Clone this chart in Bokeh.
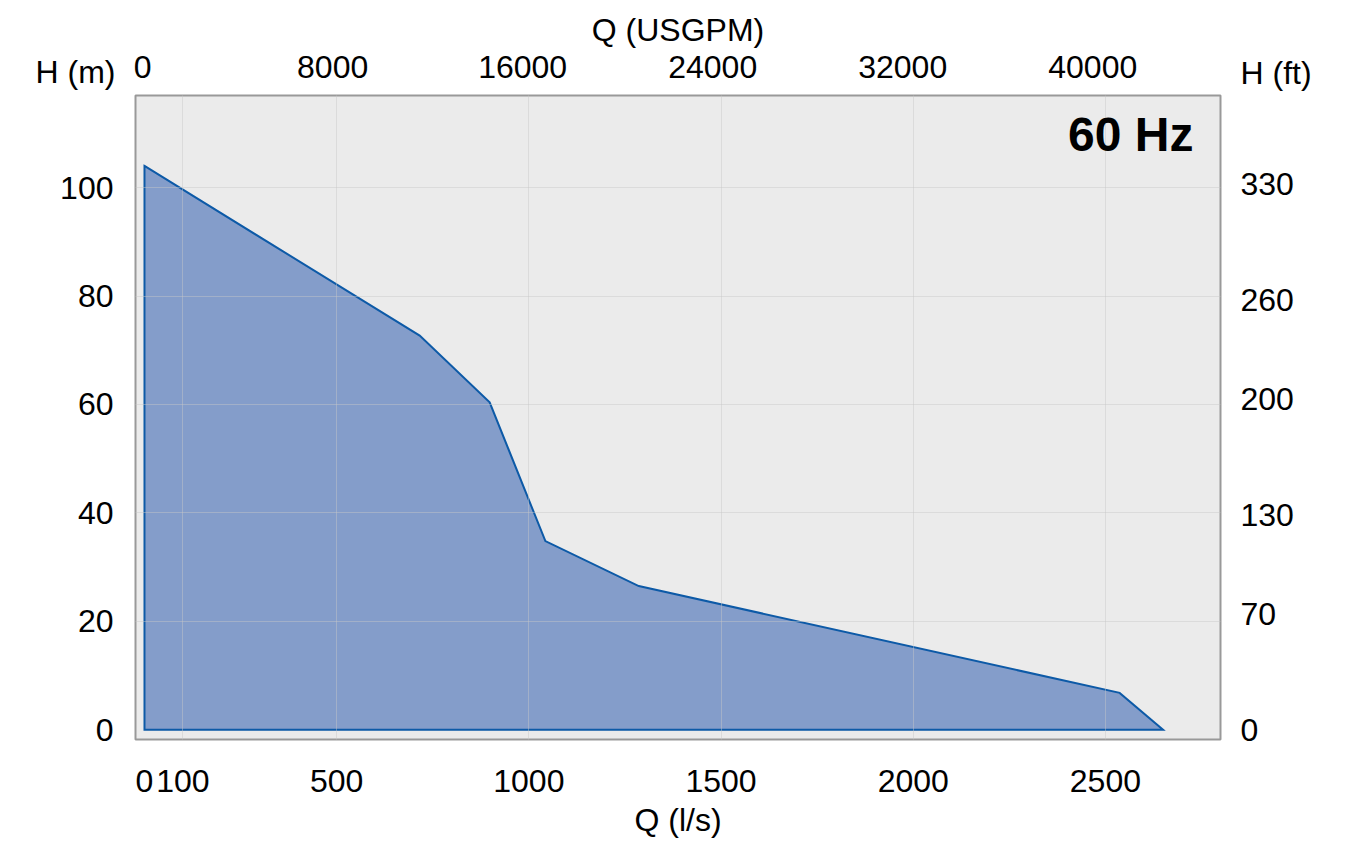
from bokeh.plotting import figure
from bokeh.models import (Range1d, LinearAxis, FixedTicker, Label, BasicTickFormatter, Title)
from bokeh.embed import file_html
from bokeh.resources import INLINE

# ---- data ----
q_ls = [0, 716, 898, 1043, 1286, 2537, 2650]          # flow, l/s
h_m = [104.0, 72.7, 60.4, 34.8, 26.5, 6.8, 0.0]       # head, m

q_ticks = [0, 100, 500, 1000, 1500, 2000, 2500]
gpm_ticks = [0, 8000, 16000, 24000, 32000, 40000]
h_ticks = [0, 20, 40, 60, 80, 100]
ft_ticks = [0, 70, 130, 200, 260, 330]

M_TO_FT = 3.28084
FONT = "Liberation Sans"
FS = "32px"
TXT_H = 37  # expected height of one 32px text row

p = figure(frame_width=1085, frame_height=644,
           min_border_left=135, min_border_right=126,
           min_border_top=95, min_border_bottom=111,
           x_range=Range1d(-23.4, 2799.4), y_range=Range1d(-1.8, 117),
           output_backend="svg", toolbar_location=None)

p.extra_x_ranges = {"gpm": Range1d(-299, 45378)}
p.extra_y_ranges = {"ft": Range1d(-1.8 * M_TO_FT, 117 * M_TO_FT)}

# unit labels of the head axes, in the row of the top tick labels
t_m = Title(text="H (m)", align="left", offset=-100, vertical_align="middle",
            standoff=48 - 2 - TXT_H, text_font=FONT, text_font_size=FS,
            text_font_style="normal", text_color="black")
t_ft = Title(text="H (ft)", align="left", offset=1105, vertical_align="top",
             standoff=-88, text_font=FONT, text_font_size=FS,
             text_font_style="normal", text_color="black")
try:
    t_ft.padding = dict(left=0, right=0, top=60, bottom=0)
except Exception:
    t_ft.vertical_align = "bottom"
    t_ft.standoff = -TXT_H
p.add_layout(t_m, "above")
p.add_layout(t_ft, "above")

top = LinearAxis(x_range_name="gpm", axis_label="Q (USGPM)",
                 ticker=FixedTicker(ticks=gpm_ticks))
p.add_layout(top, "above")
right = LinearAxis(y_range_name="ft", ticker=FixedTicker(ticks=ft_ticks))
p.add_layout(right, "right")

bottom = p.below[0]
left = p.left[0]
bottom.ticker = FixedTicker(ticks=q_ticks)
left.ticker = FixedTicker(ticks=h_ticks)
bottom.axis_label = "Q (l/s)"

for ax in (bottom, left, top, right):
    ax.axis_line_color = None
    ax.major_tick_line_color = None
    ax.minor_tick_line_color = None
    ax.major_tick_out = 0
    ax.major_tick_in = 0
    ax.minor_tick_out = 0
    ax.minor_tick_in = 0
    ax.formatter = BasicTickFormatter(use_scientific=False)
    ax.major_label_text_font = FONT
    ax.major_label_text_font_size = FS
    ax.major_label_text_color = "black"
    ax.axis_label_text_font = FONT
    ax.axis_label_text_font_size = FS
    ax.axis_label_text_font_style = "normal"
    ax.axis_label_text_color = "black"

bottom.major_label_standoff = 30
bottom.axis_label_standoff = 7
top.major_label_standoff = -39
top.axis_label_standoff = 5
left.major_label_standoff = 22
right.major_label_standoff = 20

p.background_fill_color = "#ebebeb"
p.border_fill_color = "white"
p.outline_line_color = "#999999"
p.outline_line_width = 2

p.xgrid.ticker = FixedTicker(ticks=[t for t in q_ticks if t > 0])
p.ygrid.ticker = FixedTicker(ticks=[t for t in h_ticks if t > 0])
for g in (p.xgrid[0], p.ygrid[0]):
    g.grid_line_color = "#c8c8c8"
    g.grid_line_alpha = 0.45
    g.grid_line_width = 1
    g.level = "annotation"

p.patch(x=q_ls + [q_ls[0]], y=h_m + [0.0],
        fill_color="#849dca", fill_alpha=1.0,
        line_color="#0d5aa7", line_width=2, line_join="miter")

p.add_layout(Label(x=1058, y=605, x_units="screen", y_units="screen", text="60 Hz",
                   text_align="right", text_baseline="alphabetic",
                   text_font=FONT, text_font_size="48px", text_font_style="bold",
                   text_color="black"))

open("out.html", "w").write(file_html(p, INLINE))
